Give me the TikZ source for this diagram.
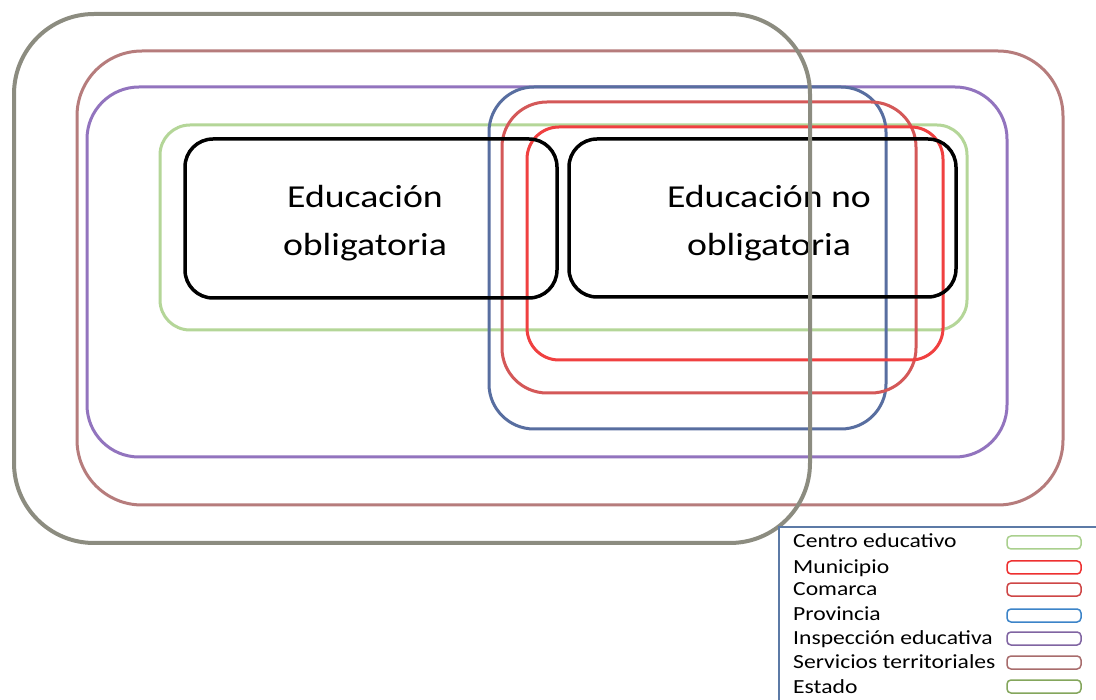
\documentclass[tikz,border=0pt]{standalone}
\usepackage{fontspec}
\setmainfont{Carlito}
\newfontfamily\widefont[FakeStretch=1.18]{Carlito}

\definecolor{estado}{RGB}{140,140,128}
\definecolor{servicios}{RGB}{182,124,124}
\definecolor{inspeccion}{RGB}{146,116,190}
\definecolor{centro}{RGB}{180,214,152}
\definecolor{provincia}{RGB}{88,110,160}
\definecolor{comarca}{RGB}{212,88,88}
\definecolor{municipio}{RGB}{240,64,64}
\definecolor{frameblue}{RGB}{92,122,166}
\definecolor{lgcentro}{RGB}{170,208,142}
\definecolor{lgmunicipio}{RGB}{238,48,48}
\definecolor{lgcomarca}{RGB}{206,70,70}
\definecolor{lgprovincia}{RGB}{60,132,200}
\definecolor{lginspeccion}{RGB}{128,100,162}
\definecolor{lgservicios}{RGB}{168,108,108}
\definecolor{lgestado}{RGB}{132,166,92}

\begin{document}
\begin{tikzpicture}[
    x=1pt, y=-1pt,
    ring/.style={draw=#1, line width=3pt},
    edubox/.style={draw=black, line width=3.5pt, rounded corners=28pt},
    edu/.style={font=\widefont\fontsize{32}{48}\selectfont, align=center, inner sep=0pt},
    lgtext/.style={font=\widefont\fontsize{20}{24}\selectfont, anchor=base west, inner sep=0pt},
    swatch/.style={draw=#1, line width=1.5pt, rounded corners=4pt},
]
\useasboundingbox[fill=white] (0,0) rectangle (1096,700);
% Levels of administration
\draw[ring=servicios, rounded corners=65pt] (77,51) rectangle (1063,505);
\draw[ring=inspeccion, rounded corners=52pt] (87,87) rectangle (1007,457);
\draw[ring=centro, rounded corners=30pt] (160,125) rectangle (967,330);
\draw[ring=provincia, rounded corners=45pt] (489,87) rectangle (886,429);
\draw[ring=comarca, rounded corners=45pt] (502,102) rectangle (916,393);
\draw[ring=municipio, rounded corners=32pt] (527,127) rectangle (943,360);
% Education boxes
\draw[edubox] (185,139) rectangle (557,298);
\draw[edubox] (569,139) rectangle (956,297);
\node[edu] (oblig) at (365,223) {Educación\\obligatoria};
\node[edu] (nooblig) at (769,223) {Educación no\\obligatoria};
% State
\draw[ring=estado, line width=4pt, rounded corners=80pt] (14,14) rectangle (810,543);
% Legend
\draw[frameblue, line width=1.5pt] (779,702) -- (779,527) -- (1098,527);
\node[lgtext] (lgc) at (793,548) {Centro educativo};
\node[lgtext] (lgm) at (793,573) {Municipio};
\node[lgtext] (lgk) at (793,595) {Comarca};
\node[lgtext] (lgp) at (793,620) {Provincia};
\node[lgtext] (lgi) at (793,644) {Inspección educativa};
\node[lgtext] (lgs) at (793,668) {Servicios territoriales};
\node[lgtext] (lge) at (793,693) {Estado};
\draw[swatch=lgcentro] (1007,536) rectangle (1081,549);
\draw[swatch=lgmunicipio] (1007,561) rectangle (1081,574);
\draw[swatch=lgcomarca] (1007,583) rectangle (1081,596);
\draw[swatch=lgprovincia] (1007,609) rectangle (1081,622);
\draw[swatch=lginspeccion] (1007,632) rectangle (1081,645);
\draw[swatch=lgservicios] (1007,656) rectangle (1081,669);
\draw[swatch=lgestado] (1007,680) rectangle (1081,693);
\end{tikzpicture}
\end{document}
